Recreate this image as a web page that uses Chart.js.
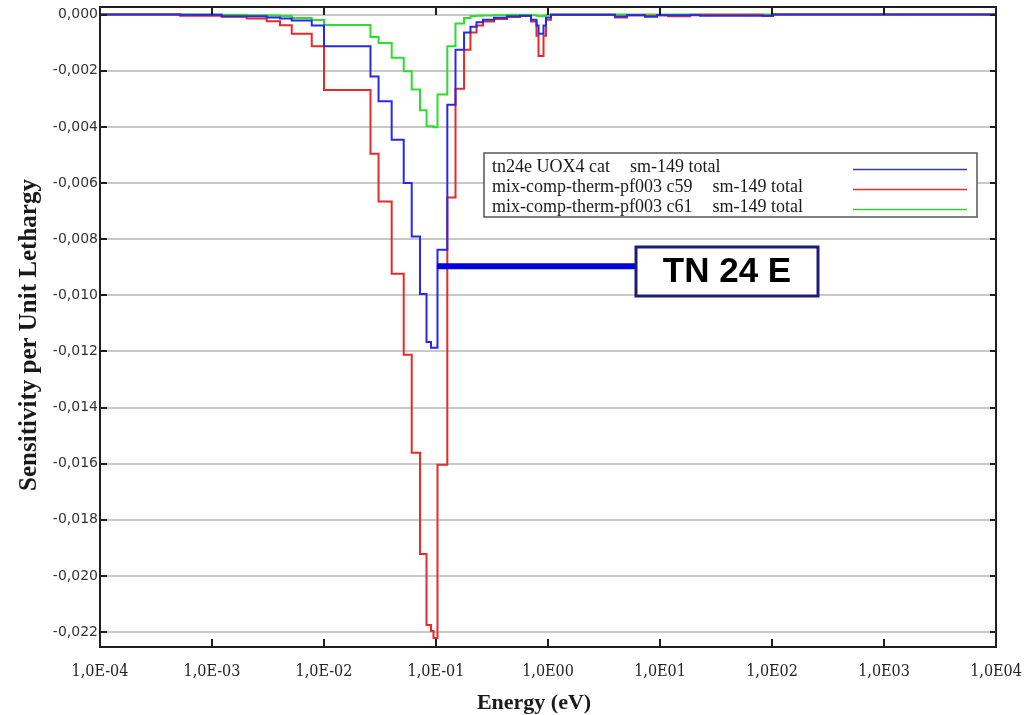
<!DOCTYPE html>
<html>
<head>
<meta charset="utf-8">
<title>Sm-149 sensitivity profiles</title>
<script src="https://cdn.jsdelivr.net/npm/chart.js@4.4.1/dist/chart.umd.min.js"></script>
<style>
	html, body { margin: 0; padding: 0; background: #fff; }
	#wrap { width: 1026px; height: 715px; }
</style>
</head>
<body>
<div id="wrap"><canvas id="chart" width="1026" height="715"></canvas></div>
<script>
// Energy group boundaries (eV), one more entry than each values array
const groupBounds = [
	1e-4, 5.2e-4, 1.22e-3, 2.04e-3, 3.08e-3, 4.05e-3, 5.15e-3, 7.77e-3, 1.0e-2, 2.6e-2,
	3.07e-2, 4.02e-2, 5.15e-2, 6.07e-2, 7.2e-2, 8.23e-2, 9.02e-2, 9.5e-2, 0.1031, 0.1262,
	0.1493, 0.178, 0.203, 0.23, 0.263, 0.33, 0.43, 0.562, 0.705, 0.789,
	0.823, 0.912, 0.96, 1.064, 3.96, 4.4, 5.07, 7.35, 9.4, 11.8,
	18.5, 22.8, 83.2, 102, 1e4,
];

// Sensitivity per unit lethargy, one value per group
const tn24eValues = [
	0, -0.00001, -0.00006, -0.00006, -0.0001, -0.00014, -0.00021, -0.00039, -0.00113, -0.00221,
	-0.00309, -0.00446, -0.006, -0.00791, -0.00995, -0.01166, -0.01187, -0.01187, -0.00838, -0.00321,
	-0.00125, -0.00064, -0.00043, -0.00027, -0.00018, -0.00011, -0.00006, -0.00004, -0.00018, -0.00039,
	-0.00068, -0.00039, -0.0001, -0.00001, -0.00007, -0.00007, -0.00002, -0.00008, -0.00002, -0.00002,
	-0.00002, -0.00004, -0.00004, 0,
];
const c59Values = [
	0, -0.00004, -0.00008, -0.00014, -0.00024, -0.00038, -0.00068, -0.00113, -0.00269, -0.00496,
	-0.00666, -0.00923, -0.01212, -0.01561, -0.01922, -0.02175, -0.02196, -0.02221, -0.01604, -0.00652,
	-0.00264, -0.00125, -0.00064, -0.00039, -0.00025, -0.00016, -0.00009, -0.00005, -0.00025, -0.00075,
	-0.00148, -0.00075, -0.00018, -0.00001, -0.0001, -0.0001, -0.00002, -0.00005, -0.00002, -0.00006,
	-0.00001, -0.00001, -0.00005, 0,
];
const c61Values = [
	0, 0, -0.00001, -0.00002, -0.00003, -0.00005, -0.00012, -0.00019, -0.00037, -0.0008,
	-0.00101, -0.00154, -0.00202, -0.00267, -0.00341, -0.00398, -0.00398, -0.00401, -0.00285, -0.00113,
	-0.00032, -0.00012, -0.00005, -0.00004, -0.00003, -0.00002, -0.00001, -0.00001, -0.00002, -0.00004,
	-0.00006, -0.00003, -0.00001, 0, 0, 0, 0, 0, 0, 0,
	0, 0, 0, 0,
];

const seriesNames = ["tn24e UOX4 cat", "mix-comp-therm-pf003 c59", "mix-comp-therm-pf003 c61"];
const seriesQuantity = "sm-149 total";
const lineColors = ["#2828e8", "#e62a2a", "#2edc2e"];
const legendColors = ["#3a3aa0", "#d23434", "#3cc83c"];

const xTickValues = [1e-4, 1e-3, 1e-2, 1e-1, 1e0, 1e1, 1e2, 1e3, 1e4];
const xTickLabels = ["1,0E-04", "1,0E-03", "1,0E-02", "1,0E-01", "1,0E00", "1,0E01", "1,0E02", "1,0E03", "1,0E04"];
const yTickValues = [0, -0.002, -0.004, -0.006, -0.008, -0.01, -0.012, -0.014, -0.016, -0.018, -0.02, -0.022];
const yTickLabels = ["0,000", "-0,002", "-0,004", "-0,006", "-0,008", "-0,010", "-0,012", "-0,014", "-0,016", "-0,018", "-0,020", "-0,022"];

const annotationLabel = "TN 24 E";
const annotationEnergy = 0.102;
const annotationValue = -0.00897;

// step profile: each value holds from its lower boundary to the next one
function toSteps(values) {
	const pts = values.map((v, i) => ({ x: groupBounds[i], y: v }));
	pts.push({ x: groupBounds[values.length], y: values[values.length - 1] });
	return pts;
}

const decorations = {
	id: "decorations",
	afterDatasetsDraw(chart) {
		const { ctx, chartArea: a, scales } = chart;
		const xs = scales.x, ys = scales.y;
		ctx.save();

		// frame and inward ticks
		ctx.strokeStyle = "#1e1e1e";
		ctx.lineWidth = 2;
		ctx.beginPath();
		yTickValues.forEach((v) => {
			const py = Math.round(ys.getPixelForValue(v));
			ctx.moveTo(a.left, py);
			ctx.lineTo(a.left + 7, py);
			ctx.moveTo(a.right, py);
			ctx.lineTo(a.right - 6, py);
		});
		xTickValues.forEach((v) => {
			const px = Math.round(xs.getPixelForValue(v));
			ctx.moveTo(px, a.bottom);
			ctx.lineTo(px, a.bottom - 8);
			ctx.moveTo(px, a.top);
			ctx.lineTo(px, a.top + 8);
		});
		ctx.stroke();
		ctx.strokeRect(a.left, a.top, a.right - a.left, a.bottom - a.top);

		// legend box
		const lx = 484, ly = 153, lw = 493, lh = 64;
		ctx.fillStyle = "#fff";
		ctx.fillRect(lx, ly, lw, lh);
		ctx.strokeStyle = "#555";
		ctx.lineWidth = 1.5;
		ctx.strokeRect(lx, ly, lw, lh);
		ctx.font = '18px "Liberation Serif", serif';
		ctx.textBaseline = "middle";
		ctx.textAlign = "left";
		seriesNames.forEach((name, i) => {
			const ty = 167 + i * 20;
			ctx.fillStyle = "#1a1a1a";
			ctx.fillText(name, 492, ty);
			const w = ctx.measureText(name).width;
			ctx.fillText(seriesQuantity, 492 + w + 20, ty);
			ctx.strokeStyle = legendColors[i];
			ctx.lineWidth = 1.5;
			ctx.beginPath();
			ctx.moveTo(853, ty + 2.5);
			ctx.lineTo(967, ty + 2.5);
			ctx.stroke();
		});

		// annotation pointing at the tn24e dip
		const bx = 636, by = 247, bw = 182, bh = 49;
		const ax = xs.getPixelForValue(annotationEnergy);
		const ay = ys.getPixelForValue(annotationValue);
		ctx.strokeStyle = "#0000e0";
		ctx.lineWidth = 6;
		ctx.beginPath();
		ctx.moveTo(ax, ay);
		ctx.lineTo(bx, ay);
		ctx.stroke();
		ctx.fillStyle = "#fff";
		ctx.fillRect(bx, by, bw, bh);
		ctx.strokeStyle = "#1c1c74";
		ctx.lineWidth = 3;
		ctx.strokeRect(bx, by, bw, bh);
		ctx.fillStyle = "#000";
		ctx.font = 'bold 35px "Liberation Sans", Arial, sans-serif';
		ctx.textAlign = "center";
		ctx.fillText(annotationLabel, bx + bw / 2, by + bh / 2 + 1);

		// axis titles
		ctx.fillStyle = "#1a1a1a";
		ctx.font = 'bold 22px "Liberation Serif", serif';
		ctx.fillText("Energy (eV)", 534, 703);
		ctx.translate(30, 335);
		ctx.rotate(-Math.PI / 2);
		ctx.font = 'bold 25px "Liberation Serif", serif';
		ctx.fillText("Sensitivity per Unit Lethargy", 0, 0);

		ctx.restore();
	},
};

const datasets = [tn24eValues, c59Values, c61Values].map((vals, i) => ({
	label: seriesNames[i] + " " + seriesQuantity,
	data: toSteps(vals),
	borderColor: lineColors[i],
	borderWidth: 2,
	pointRadius: 0,
	stepped: true,
	fill: false,
}));

new Chart(document.getElementById("chart"), {
	type: "line",
	data: { datasets: datasets },
	options: {
		responsive: false,
		animation: false,
		layout: { padding: { top: 7, right: 30, left: 0, bottom: 0 } },
		scales: {
			x: {
				type: "logarithmic",
				min: 1e-4,
				max: 1e4,
				afterBuildTicks: (scale) => {
					scale.ticks = xTickValues.map((v) => ({ value: v }));
				},
				afterFit: (scale) => {
					scale.height = 68;
					// labels may overhang the plot edges, as in the original
					scale.paddingLeft = 0;
					scale.paddingRight = 0;
				},
				grid: { display: false, drawTicks: false },
				border: { display: false },
				ticks: {
					autoSkip: false,
					maxRotation: 0,
					padding: 15,
					color: "#222",
					font: { family: "'DejaVu Serif Condensed', 'Liberation Serif', serif", size: 16 },
					callback: (value, index) => xTickLabels[index],
				},
			},
			y: {
				type: "linear",
				min: -0.02253,
				max: 0.00027,
				afterBuildTicks: (scale) => {
					scale.ticks = yTickValues.map((v) => ({ value: v }));
				},
				afterFit: (scale) => {
					scale.width = 100;
					scale.paddingTop = 0;
					scale.paddingBottom = 0;
				},
				grid: { color: "#c8c8c8", lineWidth: 2, drawTicks: false },
				border: { display: false },
				ticks: {
					padding: 2,
					color: "#333",
					font: { family: "'DejaVu Sans', sans-serif", size: 14 },
					callback: (value, index) => yTickLabels[index],
				},
			},
		},
		plugins: {
			legend: { display: false },
			tooltip: { enabled: false },
		},
	},
	plugins: [decorations],
});
</script>
</body>
</html>
